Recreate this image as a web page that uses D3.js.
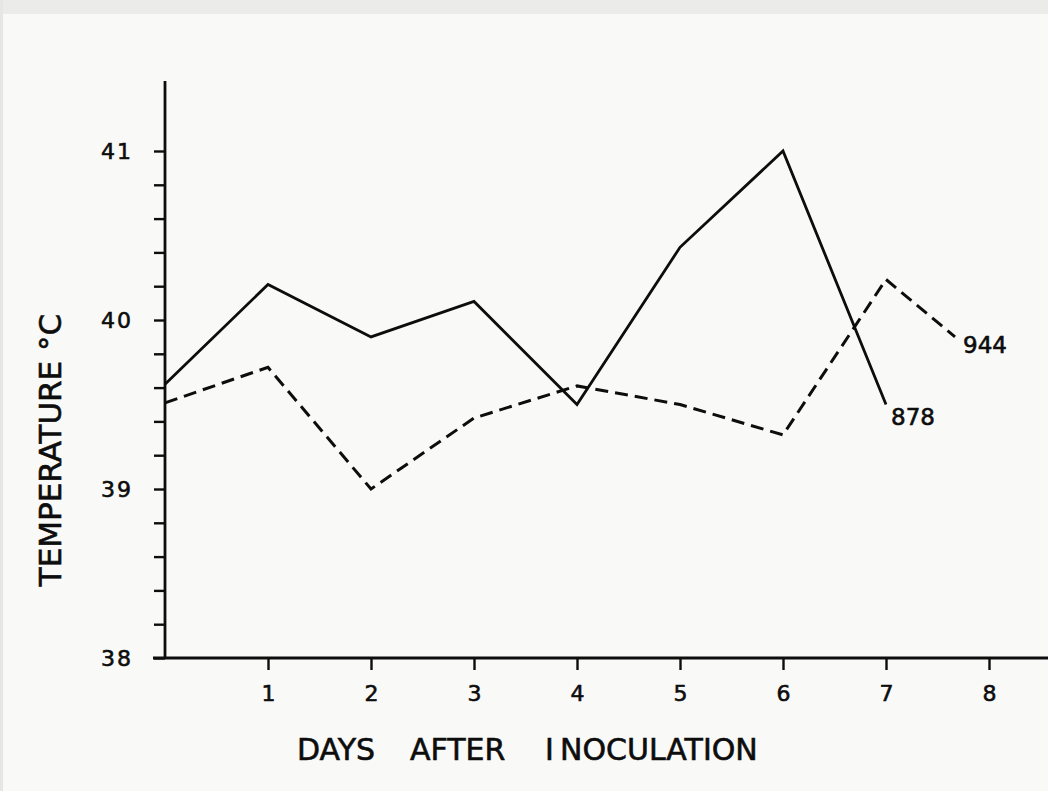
<!DOCTYPE html>
<html>
<head>
<meta charset="utf-8">
<script src="https://cdn.jsdelivr.net/npm/d3@7"></script>
<style>
  html, body { margin: 0; padding: 0; background: #f9f9f8; }
  svg { display: block; }
  svg text { stroke: #0d0d0d; stroke-width: 0.6px; }
</style>
</head>
<body>
<div id="chart"></div>
<script>
// values
const days878 = [0, 1, 2, 3, 4, 5, 6, 7]
const temp878 = [39.62, 40.21, 39.9, 40.11, 39.5, 40.43, 41.0, 39.5]
const days944 = [0, 1, 2, 3, 4, 5, 6, 7, 7.67]
const temp944 = [39.51, 39.72, 39.0, 39.42, 39.61, 39.5, 39.32, 40.24, 39.9]
const xTicks = [1, 2, 3, 4, 5, 6, 7, 8]
const yTicks = [38, 38.2, 38.4, 38.6, 38.8, 39, 39.2, 39.4, 39.6, 39.8, 40, 40.2, 40.4, 40.6, 40.8, 41]

const width = 1048, height = 791
const font = "'DejaVu Sans', sans-serif"
const ink = "#0d0d0d"

const x = d3.scaleLinear().domain([0, 8]).range([165, 989])
const y = d3.scaleLinear().domain([38, 41]).range([658, 151])

const svg = d3.select("#chart").append("svg")
    .attr("width", width)
    .attr("height", height)
    .style("font-family", font)

// scanned page look: grey strip on top
svg.append("rect").attr("x", 0).attr("y", 0).attr("width", width).attr("height", 14).attr("fill", "#ebebe9")
svg.append("rect").attr("x", 0).attr("y", 0).attr("width", 3).attr("height", height).attr("fill", "#e6e6e4")

// y axis
const yAxis = svg.append("g")
    .attr("transform", `translate(${x(0)},0)`)
    .call(d3.axisLeft(y)
      .tickValues(yTicks)
      .tickSize(11)
      .tickPadding(21)
      .tickFormat(d => Number.isInteger(d) ? d : ""))
yAxis.select(".domain").remove()
yAxis.selectAll(".tick line").attr("stroke", ink).attr("stroke-width", 2.4)
yAxis.selectAll(".tick text").attr("fill", ink).attr("font-size", 22).attr("font-family", font)
  .style("letter-spacing", "2px")
svg.append("line")
    .attr("x1", x(0)).attr("x2", x(0))
    .attr("y1", 81).attr("y2", y(38) + 1)
    .attr("stroke", ink).attr("stroke-width", 2.8)

// x axis
const xAxis = svg.append("g")
    .attr("transform", `translate(0,${y(38)})`)
    .call(d3.axisBottom(x)
      .tickValues(xTicks)
      .tickSize(12)
      .tickPadding(15)
      .tickFormat(d3.format("d")))
xAxis.select(".domain").remove()
xAxis.selectAll(".tick line").attr("stroke", ink).attr("stroke-width", 2.4)
xAxis.selectAll(".tick text").attr("fill", ink).attr("font-size", 22).attr("font-family", font)
svg.append("line")
    .attr("x1", 153).attr("x2", width)
    .attr("y1", y(38)).attr("y2", y(38))
    .attr("stroke", ink).attr("stroke-width", 2.8)

// series
const line = d3.line().x(d => x(d[0])).y(d => y(d[1]))

svg.append("path")
    .datum(d3.zip(days878, temp878))
    .attr("d", line)
    .attr("fill", "none")
    .attr("stroke", ink)
    .attr("stroke-width", 2.8)

svg.append("path")
    .datum(d3.zip(days944, temp944))
    .attr("d", line)
    .attr("fill", "none")
    .attr("stroke", ink)
    .attr("stroke-width", 3)
    .attr("stroke-dasharray", "13,7")

// series labels at the line ends
const last878 = days878.length - 1, last944 = days944.length - 1
svg.append("text")
    .attr("x", x(days878[last878]) + 5)
    .attr("y", y(temp878[last878]) + 20)
    .attr("fill", ink)
    .attr("font-size", 23)
    .text("878")
svg.append("text")
    .attr("x", x(days944[last944]) + 8)
    .attr("y", y(temp944[last944]) + 16)
    .attr("fill", ink)
    .attr("font-size", 23)
    .text("944")

// axis titles
svg.append("text")
    .attr("transform", `translate(61,${450}) rotate(-90)`)
    .attr("text-anchor", "middle")
    .attr("fill", ink)
    .attr("font-size", 31)
    .text("TEMPERATURE °C")

const xTitle = svg.append("text")
    .attr("y", 760)
    .attr("fill", ink)
    .attr("font-size", 30)
xTitle.append("tspan").attr("x", 297).text("DAYS")
xTitle.append("tspan").attr("x", 410).text("AFTER")
xTitle.append("tspan").attr("x", 545).text("I")
xTitle.append("tspan").attr("x", 560).text("NOCULATION")
</script>
</body>
</html>
